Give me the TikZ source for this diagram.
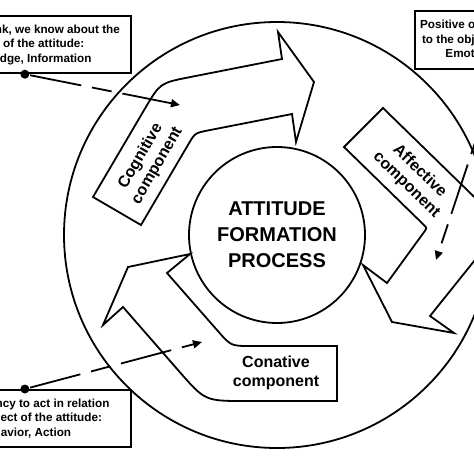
\documentclass[tikz,border=0pt]{standalone}
\usepackage{fontspec}
\setmainfont{Liberation Sans}
\usetikzlibrary{calc,arrows.meta}

\begin{document}
\begin{tikzpicture}[x=1pt,y=-1pt,line width=1.8pt,
  infobox/.style={draw,line width=2.2pt,align=center,inner sep=0pt,
    minimum height=57pt,font=\bfseries\fontsize{11.7}{14.5}\selectfont},
  complabel/.style={align=center,font=\bfseries\fontsize{16}{19}\selectfont},
  bigarrow/.style={draw,fill=white,line join=miter},
  link/.style={line width=1.8pt,dash pattern=on 52pt off 11pt on 20pt off 11pt,
    -{Triangle[length=9pt,width=8pt]}},
  anchordot/.style={circle,fill=black,inner sep=0pt,minimum size=9pt}]

\useasboundingbox (0,0) rectangle (474,474);

\draw (277,235) circle (213pt);
\node[circle,draw,minimum size=176pt,align=center,
  font=\bfseries\fontsize{20}{26}\selectfont] (proc) at (277,235)
  {ATTITUDE\\FORMATION\\PROCESS};

% cognitive
\coordinate (cog1) at (93,197);
\coordinate (cog2) at (160,83);
\coordinate (cog3) at (282,59);
\coordinate (cog4) at (278,32);
\coordinate (cog5) at (314,82);
\coordinate (cog6) at (296,142);
\coordinate (cog7) at (292,114);
\coordinate (cog8) at (195,133);
\coordinate (cog9) at (141,225);
\draw[bigarrow] (cog1) -- ($(cog2)!30pt!(cog1)$) .. controls (cog2) .. ($(cog2)!30pt!(cog3)$)
  -- (cog3) -- (cog4) -- (cog5) -- (cog6) -- (cog7)
  -- ($(cog8)!13pt!(cog7)$) .. controls (cog8) .. ($(cog8)!13pt!(cog9)$) -- (cog9) -- cycle;

% affective
\coordinate (aff1) at (383,108);
\coordinate (aff2) at (503,225);
\coordinate (aff3) at (430,316);
\coordinate (aff4) at (454,333);
\coordinate (aff5) at (392,322);
\coordinate (aff6) at (363,265);
\coordinate (aff7) at (387,283);
\coordinate (aff8) at (427,228);
\coordinate (aff9) at (344,147);
\draw[bigarrow] (aff1) -- ($(aff2)!40pt!(aff1)$) .. controls (aff2) .. ($(aff2)!40pt!(aff3)$)
  -- (aff3) -- (aff4) -- (aff5) -- (aff6) -- (aff7)
  -- ($(aff8)!5pt!(aff7)$) .. controls (aff8) .. ($(aff8)!5pt!(aff9)$) -- (aff9) -- cycle;

% conative
\coordinate (con1) at (337,401);
\coordinate (con2) at (205,401);
\coordinate (con3) at (123,307);
\coordinate (con4) at (103,325);
\coordinate (con5) at (128,267);
\coordinate (con6) at (190,254);
\coordinate (con7) at (167,273);
\coordinate (con8) at (231,346);
\coordinate (con9) at (337,346);
\draw[bigarrow] (con1) -- ($(con2)!40pt!(con1)$) .. controls (con2) .. ($(con2)!40pt!(con3)$)
  -- (con3) -- (con4) -- (con5) -- (con6) -- (con7)
  -- ($(con8)!20pt!(con7)$) .. controls (con8) .. ($(con8)!20pt!(con9)$) -- (con9) -- cycle;

\node[complabel,rotate=60] (cogtext) at (149,161) {Cognitive\\component};
\node[complabel,rotate=-44] (afftext) at (413,178) {Affective\\component};
\node[complabel] (context) at (276,373) {Conative\\component};

\node[infobox,minimum width=212pt,anchor=north east] (know) at (132,15)
  {What we think, we know about the\\object of the attitude:\\Knowledge, Information};
\node[infobox,minimum width=168pt,minimum height=58pt,anchor=north west] (feel) at (414,10)
  {Positive or negative feelings\\to the object of the attitude:\\Emotions, Feelings};
\node[infobox,minimum width=212pt,anchor=north east] (act) at (132,389)
  {The tendency to act in relation\\to the object of the attitude:\\Behavior, Action};

\node[anchordot] (knowdot) at (know.south) {};
\node[anchordot] (feeldot) at (feel.south) {};
\node[anchordot] (actdot) at (act.north) {};

\coordinate (knowend) at (180,105);
\coordinate (feelend) at (436,260);
\coordinate (actend) at (202,342);

\draw[link] (knowdot) -- (knowend);
\draw[link] (feeldot) -- (feelend);
\draw[link] (actdot) -- (actend);
\end{tikzpicture}
\end{document}
